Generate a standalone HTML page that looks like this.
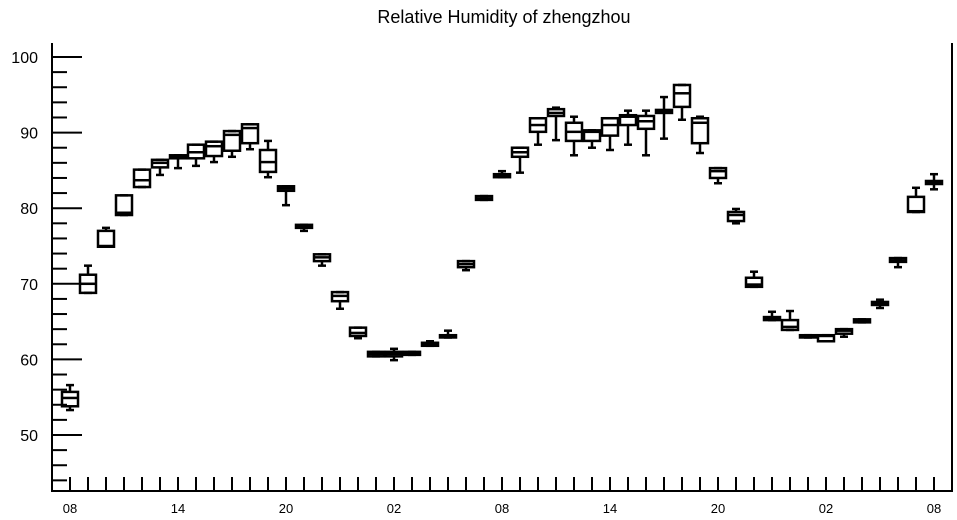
<!DOCTYPE html>
<html><head><meta charset="utf-8"><style>
body{margin:0;background:#fff;}
svg{display:block;font-family:"Liberation Sans",sans-serif;}
</style></head><body>
<svg id="chart" width="957" height="520" viewBox="0 0 957 520">
<text x="504" y="23" font-size="18" text-anchor="middle">Relative Humidity of zhengzhou</text>
<g id="axes"></g><g id="boxes"></g>
</svg>
<script>
const xLabels=["08","14","20","02","08","14","20","02","08"];
const yTicks=[50,60,70,80,90,100];
const q3=[55.7,71.2,77.0,81.7,85.1,86.4,87.0,88.4,88.8,90.2,91.1,87.7,82.9,77.8,73.9,68.9,64.2,61.0,61.0,61.0,62.2,63.2,73.0,81.6,84.5,88.0,91.9,93.1,91.3,90.3,91.9,92.3,92.2,93.0,96.3,91.9,85.3,79.5,70.8,65.6,65.2,63.2,63.2,64.0,65.3,67.6,73.4,81.5,83.6];
const q1=[53.8,68.8,74.9,79.1,82.8,85.4,86.6,86.6,86.9,87.6,88.6,84.8,82.3,77.4,73.0,67.7,63.1,60.4,60.4,60.6,61.8,62.9,72.2,81.1,84.1,86.8,90.1,92.2,88.9,88.9,89.6,91.0,90.5,92.6,93.4,88.6,84.0,78.3,69.6,65.2,63.9,62.9,62.4,63.4,64.9,67.2,72.9,79.5,83.2];
const med=[54.9,70.0,75.0,79.4,83.7,86.0,86.8,87.4,88.2,89.7,90.6,86.1,82.6,77.6,73.5,68.4,63.5,60.7,60.7,60.8,62.0,63.0,72.6,81.3,84.3,87.4,91.0,92.6,90.1,90.1,91.0,92.1,91.5,92.8,95.2,91.3,84.9,79.1,69.9,65.4,64.3,63.0,63.1,63.8,65.1,67.4,73.1,79.6,83.4];
const maxV=[56.6,72.4,77.4,81.7,85.1,86.4,87.0,88.4,88.8,90.2,91.1,88.9,82.9,77.8,73.9,68.9,64.2,61.0,61.4,61.0,62.4,63.8,73.0,81.6,84.9,88.0,91.9,93.3,92.1,90.3,91.9,92.9,92.9,94.7,96.3,92.1,85.3,79.9,71.6,66.3,66.4,63.2,63.2,64.0,65.3,67.9,73.4,82.7,84.5];
const minV=[53.3,68.8,74.9,79.1,82.8,84.4,85.3,85.6,86.1,86.8,87.8,84.1,80.4,77.0,72.4,66.7,62.8,60.4,59.9,60.6,61.8,62.9,71.8,81.1,84.1,84.7,88.4,89.0,87.0,88.0,87.7,88.4,87.0,89.2,91.7,87.3,83.3,78.0,69.6,65.2,63.9,62.9,62.4,63.0,64.9,66.8,72.2,79.5,82.5];
const NS="http://www.w3.org/2000/svg";
const L=52,R=952,T=43,B=491;
function y(v){return 57+(100-v)*7.56;}
function x(i){return 70+18*i;}
function mk(tag,attrs,parent){const e=document.createElementNS(NS,tag);for(const k in attrs)e.setAttribute(k,attrs[k]);parent.appendChild(e);return e;}
const ax=document.getElementById('axes'),bx=document.getElementById('boxes');
const frame=mk('path',{d:`M${L} ${T} L${L} ${B} L${R} ${B} L${R} ${T}`,fill:'none',stroke:'#000','stroke-width':2},ax);


for(let v=44;v<=100;v+=2){
  const major=v%10===0;
  const t=mk('line',{x1:L,x2:L+(major?30:15),y1:y(v),y2:y(v),stroke:'#000','stroke-width':2},ax);
  
  
}
yTicks.forEach(v=>{
  const t=mk('text',{x:38,y:y(v)+6,'font-size':16,'text-anchor':'end'},ax);t.textContent=v;
  
  
});
for(let i=0;i<49;i++){
  const t=mk('line',{x1:x(i),x2:x(i),y1:B,y2:B-14,stroke:'#000','stroke-width':2},ax);
  
  
}
xLabels.forEach((s,k)=>{
  const t=mk('text',{x:x(k*6),y:513,'font-size':13,'text-anchor':'middle'},ax);t.textContent=s;
  
  
});
for(let i=0;i<q3.length;i++){
  const g=mk('g',{stroke:'#000','stroke-width':2.5,fill:'none'},bx);
  
  
  const cx=x(i),w=8;
  mk('line',{x1:cx,x2:cx,y1:y(maxV[i]),y2:y(q3[i])},g);
  mk('line',{x1:cx,x2:cx,y1:y(q1[i]),y2:y(minV[i])},g);
  mk('line',{x1:cx-4,x2:cx+4,y1:y(maxV[i]),y2:y(maxV[i])},g);
  mk('line',{x1:cx-4,x2:cx+4,y1:y(minV[i]),y2:y(minV[i])},g);
  mk('rect',{x:cx-w,y:y(q3[i]),width:2*w,height:Math.max(1,y(q1[i])-y(q3[i]))},g);
  mk('line',{x1:cx-w,x2:cx+w,y1:y(med[i]),y2:y(med[i])},g);
}
</script>
</body></html>
